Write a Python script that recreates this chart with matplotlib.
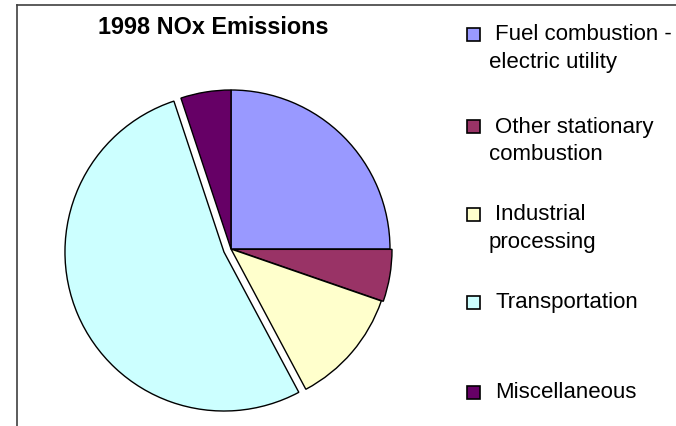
#!/usr/bin/env python
u"""
plot.py
"""
#
# Imports
#
import matplotlib
matplotlib.use("Agg")
import matplotlib.pyplot as plt
from matplotlib.patches import Rectangle
from matplotlib.lines import Line2D

#
# Chart Data
#
title = "1998 NOx Emissions"
labels = ["Fuel combustion -\nelectric utility",
          "Other stationary\ncombustion",
          "Industrial\nprocessing",
          "Transportation",
          "Miscellaneous"]
shares = [25.0, 5.3, 11.9, 52.7, 5.1]
colors = ["#9999FF", "#993366", "#FFFFCC", "#CCFFFF", "#660066"]
explode = [0.0, 0.012, 0.0, 0.045, 0.0]

#
# Layout (pixels)
#
W, H = 676, 427
legend_y = [35, 127, 215, 303, 393]

fig = plt.figure(figsize=(W / 100, H / 100), dpi=100)
plt.rcParams['font.family'] = ['Liberation Sans', 'DejaVu Sans']

# Chart Frame
fig.add_artist(Line2D([17 / W, 17 / W], [0, 1 - 6 / H], color="#404040", linewidth=1.2))
fig.add_artist(Line2D([17 / W, 1], [1 - 6 / H, 1 - 6 / H], color="#404040", linewidth=1.2))

# Pie
cx, cy, half = 231, 250, 170
ax = fig.add_axes([(cx - half) / W, (H - cy - half) / H, 2 * half / W, 2 * half / H])
ax.pie(shares, colors=colors, explode=explode, startangle=90, counterclock=False,
       radius=159 / half, wedgeprops={"edgecolor": "black", "linewidth": 1.0})
ax.set_xlim(-1, 1)
ax.set_ylim(-1, 1)
ax.set_aspect("equal")
ax.axis("off")

# Title
fig.text(213 / W, 1 - 28 / H, title, ha="center", va="center",
         fontsize=16.8, fontweight="bold")

# Legend
for lab, col, y in zip(labels, colors, legend_y):
    fig.add_artist(Rectangle((467 / W, 1 - (y + 7) / H), 13 / W, 13 / H,
                             facecolor=col, edgecolor="black", linewidth=1.2,
                             transform=fig.transFigure))
    lines = lab.split("\n")
    fig.text(495 / W, 1 - y / H, lines[0], ha="left", va="center", fontsize=16)
    if len(lines) > 1:
        fig.text(489 / W, 1 - (y + 28) / H, lines[1], ha="left", va="center", fontsize=16)

# Save Plot
fig.savefig("out.png", dpi=100)
